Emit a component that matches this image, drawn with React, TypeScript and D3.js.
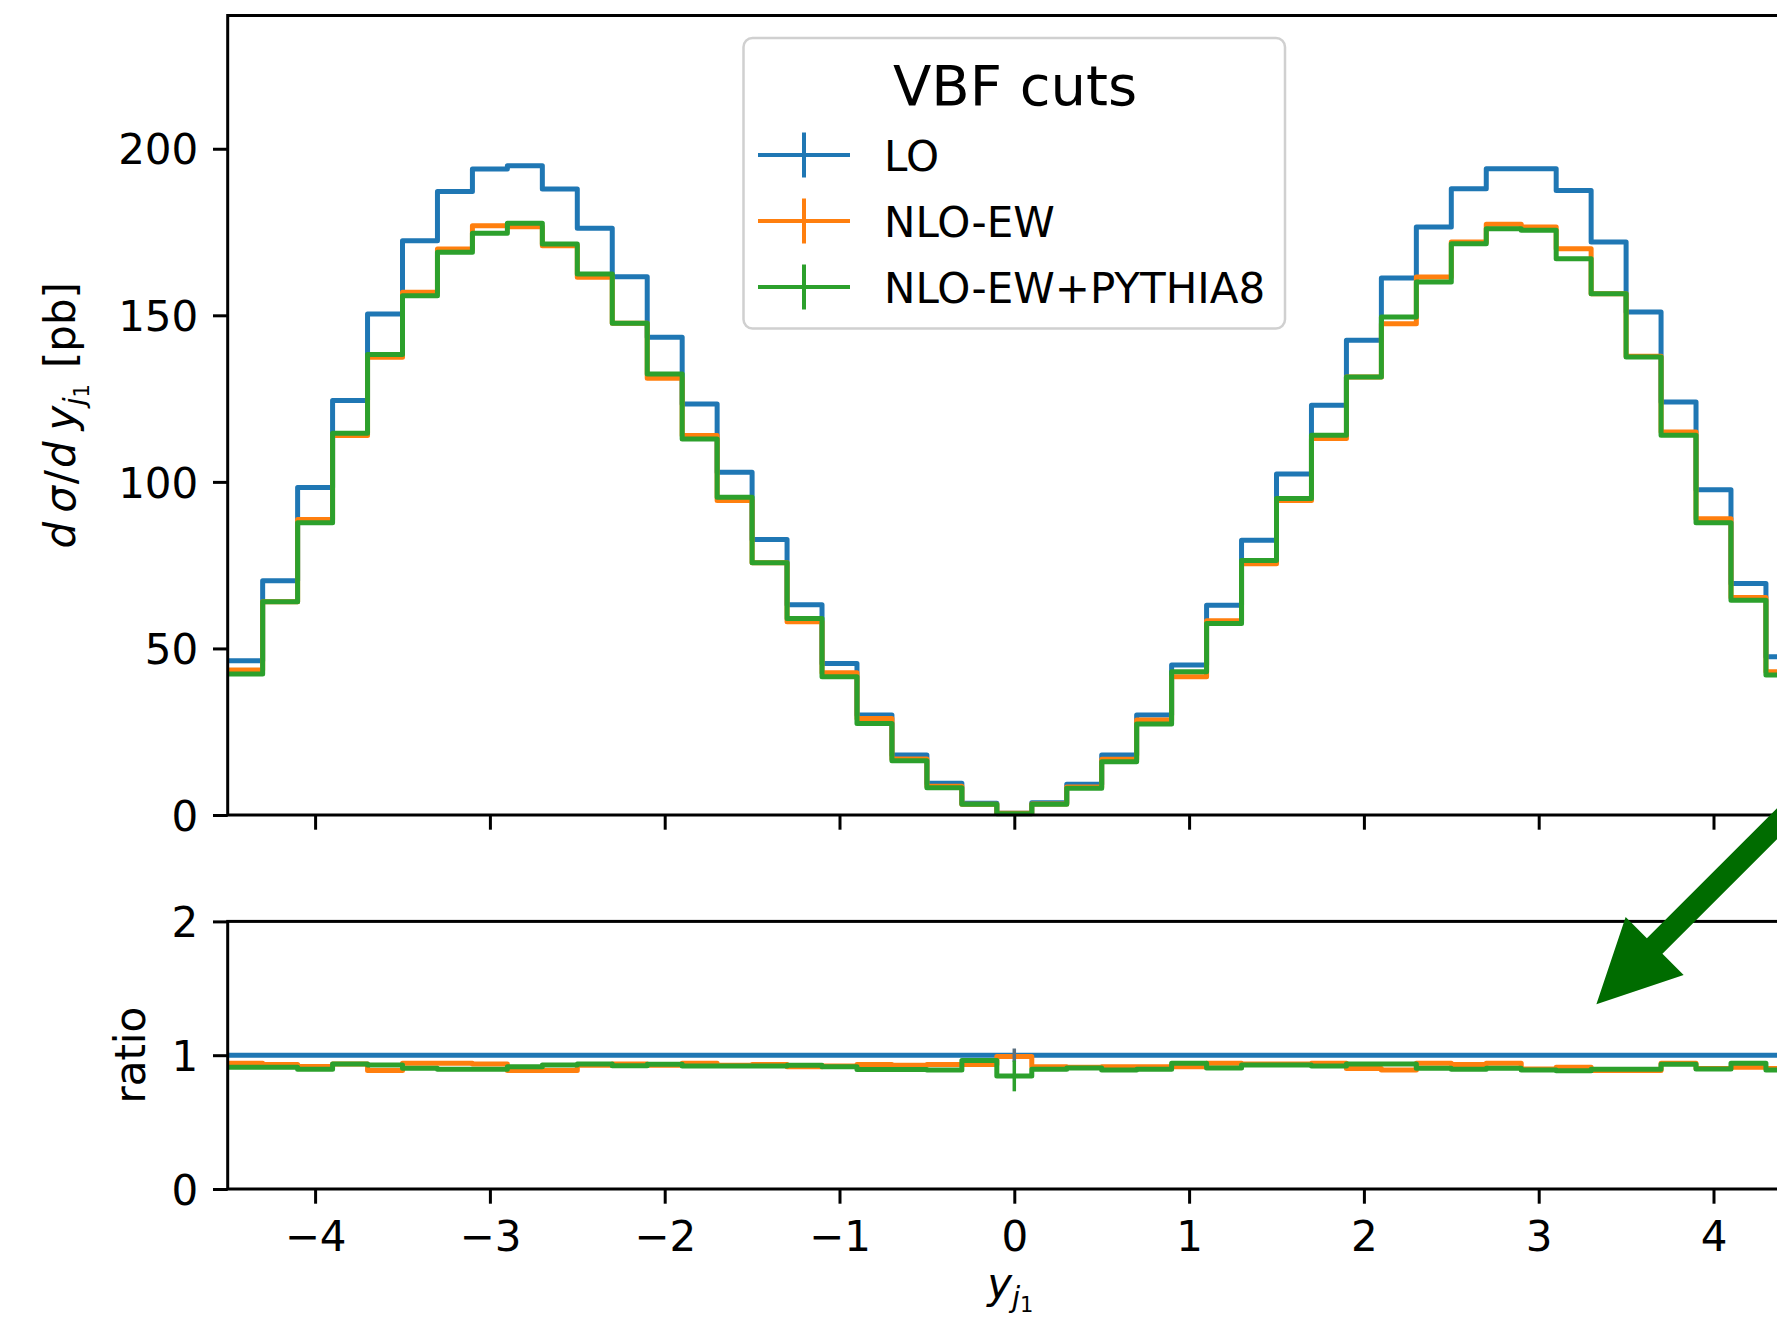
import React, { useEffect, useRef } from "react";
import * as d3 from "d3";

// histogram bins in y_j1 (width 0.2)
const binEdges = [
  -4.5, -4.3, -4.1, -3.9, -3.7, -3.5, -3.3, -3.1, -2.9, -2.7, -2.5, -2.3, -2.1, -1.9, -1.7, -1.5,
  -1.3, -1.1, -0.9, -0.7, -0.5, -0.3, -0.1, 0.1, 0.3, 0.5, 0.7, 0.9, 1.1, 1.3, 1.5, 1.7, 1.9,
  2.1, 2.3, 2.5, 2.7, 2.9, 3.1, 3.3, 3.5, 3.7, 3.9, 4.1, 4.3, 4.5
];

// d sigma / d y_j1 [pb]
const loValues = [
  46.3, 70.3, 98.3, 124.4, 150.4, 172.4, 187.2, 193.9, 194.9, 187.9, 176.1, 161.6, 143.4, 123.4,
  102.9, 82.7, 63.1, 45.5, 30.0, 18.0, 9.5, 3.5, 0.5, 3.7, 9.2, 18.0, 30.0, 45.0, 63.0, 82.5,
  102.4, 123.0, 142.5, 161.2, 176.5, 188.0, 194.0, 194.0, 187.5, 172.0, 151.0, 124.0, 97.6, 69.5, 47.5
];
const nloEwValues = [
  43.5, 64.0, 88.7, 113.9, 137.4, 156.9, 169.9, 176.9, 176.6, 170.9, 161.4, 147.6, 131.1, 113.9,
  94.4, 75.7, 58.0, 42.7, 29.0, 16.8, 8.6, 3.2, 0.5, 3.3, 8.4, 16.7, 28.5, 41.5, 58.3, 75.4,
  94.4, 113.0, 131.5, 147.5, 161.5, 172.0, 177.3, 176.5, 170.0, 156.5, 137.7, 115.0, 88.9, 65.3, 43.0
];
const nloEwPy8Values = [
  42.3, 64.0, 87.7, 114.6, 138.2, 155.9, 168.9, 174.6, 177.6, 171.4, 162.4, 147.6, 132.4, 112.9,
  95.4, 75.7, 59.0, 41.5, 27.5, 16.3, 8.2, 3.2, 0.4, 3.2, 8.0, 16.0, 27.3, 43.0, 57.5, 76.4,
  95.0, 114.0, 131.5, 149.5, 160.0, 171.5, 176.0, 175.5, 167.0, 156.5, 137.5, 114.0, 87.7, 64.5, 42.0
];

// ratio to LO
const ratioNloEw = [
  0.94, 0.93, 0.915, 0.935, 0.885, 0.94, 0.94, 0.935, 0.885, 0.885, 0.925, 0.935, 0.925, 0.94,
  0.925, 0.93, 0.914, 0.92, 0.93, 0.925, 0.93, 0.93, 0.99, 0.914, 0.91, 0.914, 0.914, 0.914, 0.94,
  0.935, 0.935, 0.94, 0.9, 0.89, 0.94, 0.93, 0.94, 0.897, 0.91, 0.885, 0.885, 0.94, 0.9, 0.91, 0.9
];
const ratioNloEwPy8 = [
  0.91, 0.91, 0.895, 0.935, 0.927, 0.902, 0.895, 0.895, 0.914, 0.927, 0.934, 0.922, 0.932, 0.92,
  0.919, 0.919, 0.925, 0.914, 0.894, 0.894, 0.89, 0.96, 0.845, 0.895, 0.905, 0.89, 0.895, 0.94,
  0.905, 0.927, 0.927, 0.919, 0.934, 0.934, 0.902, 0.895, 0.902, 0.889, 0.884, 0.895, 0.895,
  0.932, 0.897, 0.939, 0.889
];
// visible error bars in the ratio panel (central bin)
const ratioErrors = [
  { series: 0, bin: 22, err: 0.05 },
  { series: 2, bin: 22, err: 0.115 }
];

const seriesNames = ["LO", "NLO-EW", "NLO-EW+PYTHIA8"];
const seriesColors = ["#1f77b4", "#ff7f0e", "#2ca02c"];
const xTicks = [-4, -3, -2, -1, 0, 1, 2, 3, 4];
const yTicksTop = [0, 50, 100, 150, 200];
const yTicksRatio = [0, 1, 2];
const legendTitle = "VBF cuts";
const arrowTip = [3.33, 1.38]; // in (y_j1, ratio) of the lower panel

const W = 1777,
  H = 1323;
const FONT = "'DejaVu Sans', sans-serif";
const FS = 42;
const TICK = 14.7;
const LW = 5;

export default function App() {
  const ref = useRef(null);

  useEffect(() => {
    const svg = d3.select(ref.current);
    svg.selectAll("*").remove();

    const x = d3.scaleLinear().domain([-4.5, 4.5]).range([227.7, 1800.9]);
    const yTop = d3.scaleLinear().domain([0, 240]).range([815, 15.5]);
    const yRat = d3.scaleLinear().domain([0, 2]).range([1189, 921.4]);

    const fmt = d => (d < 0 ? "\u2212" + Math.abs(d) : String(d));
    const toPts = vals =>
      vals.map((v, i) => [binEdges[i], v]).concat([[binEdges[vals.length], vals[vals.length - 1]]]);
    const stepLine = y =>
      d3
        .line()
        .curve(d3.curveStepAfter)
        .x(d => x(d[0]))
        .y(d => y(d[1]));

    const styleAxis = g => {
      g.attr("font-size", FS).attr("font-family", FONT);
      g.select(".domain").remove();
      g.selectAll(".tick line").attr("stroke", "#000").attr("stroke-width", 3);
      g.selectAll(".tick text").attr("fill", "#000");
    };

    // ---- top panel
    const top = svg.append("g");
    [loValues, nloEwValues, nloEwPy8Values].forEach((vals, i) => {
      top
        .append("path")
        .attr("d", stepLine(yTop)(toPts(vals)))
        .attr("fill", "none")
        .attr("stroke", seriesColors[i])
        .attr("stroke-width", LW)
        .attr("stroke-linejoin", "round");
    });

    top
      .append("g")
      .attr("transform", `translate(0, ${yTop(0)})`)
      .call(d3.axisBottom(x).tickValues(xTicks).tickSize(TICK).tickFormat(() => ""))
      .call(styleAxis);
    top
      .append("g")
      .attr("transform", `translate(${x(-4.5)}, 0)`)
      .call(d3.axisLeft(yTop).tickValues(yTicksTop).tickSize(TICK).tickPadding(TICK))
      .call(styleAxis)
      .call(g => g.selectAll(".tick text").attr("dy", "0.36em"));
    top
      .append("rect")
      .attr("x", x(-4.5))
      .attr("y", yTop(240))
      .attr("width", x(4.5) - x(-4.5))
      .attr("height", yTop(0) - yTop(240))
      .attr("fill", "none")
      .attr("stroke", "#000")
      .attr("stroke-width", 3);

    // ---- ratio panel
    const bot = svg.append("g");
    const ratioLo = loValues.map(v => v / v);
    const ratioSeries = [ratioLo, ratioNloEw, ratioNloEwPy8];
    ratioSeries.forEach((vals, i) => {
      bot
        .append("path")
        .attr("d", stepLine(yRat)(toPts(vals)))
        .attr("fill", "none")
        .attr("stroke", seriesColors[i])
        .attr("stroke-width", LW)
        .attr("stroke-linejoin", "round");
    });
    ratioErrors.forEach(e => {
      const v = ratioSeries[e.series][e.bin];
      const cx = x((binEdges[e.bin] + binEdges[e.bin + 1]) / 2);
      bot
        .append("line")
        .attr("x1", cx)
        .attr("x2", cx)
        .attr("y1", yRat(v - e.err))
        .attr("y2", yRat(v + e.err))
        .attr("stroke", e.series === 0 ? "#5a6f80" : seriesColors[e.series])
        .attr("stroke-width", 3.5);
    });

    bot
      .append("g")
      .attr("transform", `translate(0, ${yRat(0)})`)
      .call(d3.axisBottom(x).tickValues(xTicks).tickSize(TICK).tickPadding(17).tickFormat(fmt))
      .call(styleAxis);
    bot
      .append("g")
      .attr("transform", `translate(${x(-4.5)}, 0)`)
      .call(d3.axisLeft(yRat).tickValues(yTicksRatio).tickSize(TICK).tickPadding(TICK).tickFormat(fmt))
      .call(styleAxis)
      .call(g => g.selectAll(".tick text").attr("dy", "0.36em"));
    bot
      .append("rect")
      .attr("x", x(-4.5))
      .attr("y", yRat(2))
      .attr("width", x(4.5) - x(-4.5))
      .attr("height", yRat(0) - yRat(2))
      .attr("fill", "none")
      .attr("stroke", "#000")
      .attr("stroke-width", 3);

    // ---- axis labels
    const ylab = svg
      .append("text")
      .attr("transform", `translate(75, ${(yTop(0) + yTop(240)) / 2}) rotate(-90)`)
      .attr("text-anchor", "middle")
      .attr("font-family", FONT)
      .attr("font-size", FS)
      .attr("fill", "#000");
    ylab.append("tspan").attr("font-style", "italic").text("d");
    ylab.append("tspan").attr("dx", 9).attr("font-style", "italic").text("σ");
    ylab.append("tspan").attr("dx", 2).text("/");
    ylab.append("tspan").attr("dx", 2).attr("font-style", "italic").text("d");
    ylab.append("tspan").attr("dx", 11).attr("font-style", "italic").text("y");
    ylab.append("tspan").attr("font-size", 29).attr("dy", 9).attr("font-style", "italic").text("j");
    ylab.append("tspan").attr("font-size", 21).attr("dy", 5).text("1");
    ylab.append("tspan").attr("dy", -14).attr("dx", 16).text("[pb]");

    svg
      .append("text")
      .attr("transform", `translate(145, ${yRat(1)}) rotate(-90)`)
      .attr("text-anchor", "middle")
      .attr("font-family", FONT)
      .attr("font-size", FS)
      .attr("fill", "#000")
      .text("ratio");

    const xlab = svg
      .append("text")
      .attr("x", x(0) - 4)
      .attr("y", 1298)
      .attr("text-anchor", "middle")
      .attr("font-family", FONT)
      .attr("font-size", FS)
      .attr("fill", "#000");
    xlab.append("tspan").attr("font-style", "italic").text("y");
    xlab.append("tspan").attr("font-size", 29).attr("dy", 9).attr("font-style", "italic").text("j");
    xlab.append("tspan").attr("font-size", 21).attr("dy", 5).text("1");

    // ---- legend
    const leg = svg.append("g");
    leg
      .append("rect")
      .attr("x", 743.5)
      .attr("y", 38)
      .attr("width", 541.5)
      .attr("height", 290.5)
      .attr("rx", 9)
      .attr("fill", "#fff")
      .attr("fill-opacity", 0.8)
      .attr("stroke", "#d0d0d0")
      .attr("stroke-width", 2.5);
    leg
      .append("text")
      .attr("x", 1015)
      .attr("y", 105)
      .attr("text-anchor", "middle")
      .attr("font-family", FONT)
      .attr("font-size", 56)
      .attr("fill", "#000")
      .text(legendTitle);
    seriesNames.forEach((name, i) => {
      const cy = 155 + i * 66;
      const row = leg.append("g").attr("stroke", seriesColors[i]).attr("stroke-width", 4);
      row.append("line").attr("x1", 758).attr("x2", 850).attr("y1", cy).attr("y2", cy);
      row.append("line").attr("x1", 804).attr("x2", 804).attr("y1", cy - 22.5).attr("y2", cy + 22.5);
      leg
        .append("text")
        .attr("x", 884)
        .attr("y", cy + 16)
        .attr("font-family", FONT)
        .attr("font-size", FS)
        .attr("fill", "#000")
        .text(name);
    });

    // ---- annotation arrow pointing into the ratio panel
    const tx = x(arrowTip[0]),
      ty = yRat(arrowTip[1]);
    const s = Math.SQRT1_2;
    const u = [s, -s],
      n = [s, s];
    const headLen = 82.4,
      headHalf = 41,
      shaftHalf = 11,
      tailLen = 420;
    const B = [tx + headLen * u[0], ty + headLen * u[1]];
    const T = [B[0] + tailLen * u[0], B[1] + tailLen * u[1]];
    const off = (p, k) => [p[0] + k * n[0], p[1] + k * n[1]];
    const pts = [
      [tx, ty],
      off(B, -headHalf),
      off(B, -shaftHalf),
      off(T, -shaftHalf),
      off(T, shaftHalf),
      off(B, shaftHalf),
      off(B, headHalf)
    ];
    svg
      .append("polygon")
      .attr("points", pts.map(p => p.join(",")).join(" "))
      .attr("fill", "#006c00");
  }, []);

  return (
    <svg
      ref={ref}
      width={W}
      height={H}
      style={{ position: "absolute", left: 0, top: 0, background: "#fff", display: "block" }}
    />
  );
}
